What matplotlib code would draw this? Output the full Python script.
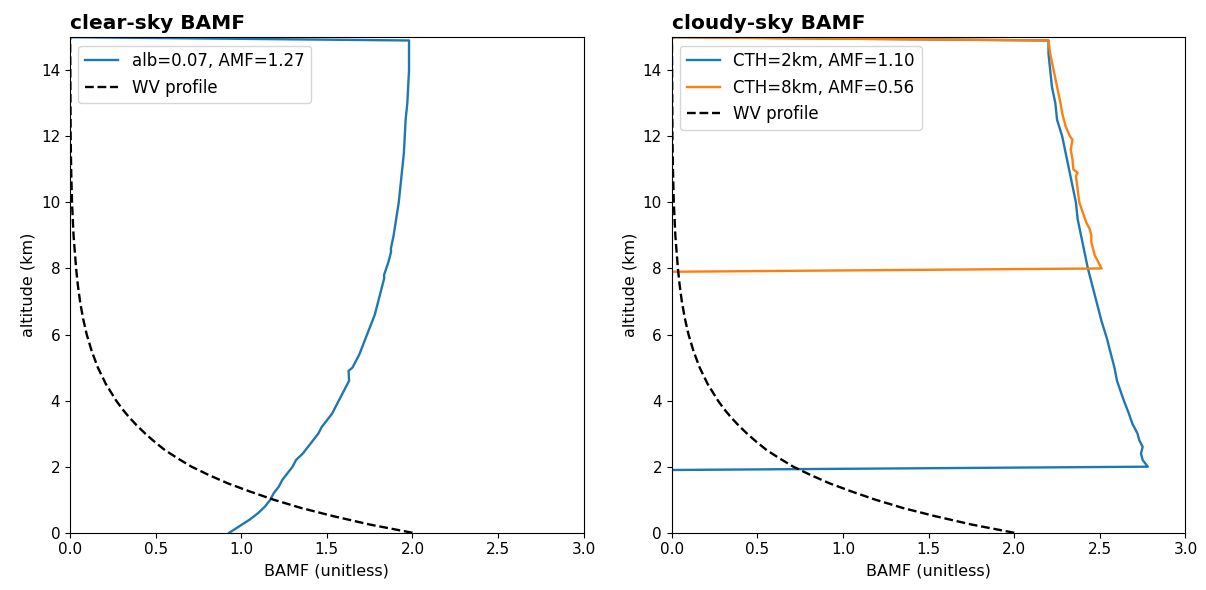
import numpy as np
import matplotlib
matplotlib.use("Agg")
import matplotlib.pyplot as plt

# water vapour profile (shape)
wv_alt = [0.0, 0.25, 0.5, 0.75, 1.0, 1.25, 1.5, 1.75, 2.0, 2.25, 2.5, 2.75, 3.0,
          3.25, 3.5, 3.75, 4.0, 4.5, 5.0, 5.5, 6.0, 6.5, 7.0, 7.5, 8.0, 9.0,
          10.0, 11.0, 12.0, 15.0]
wv_val = [2.0, 1.75, 1.54, 1.35, 1.19, 1.05, 0.92, 0.81, 0.71, 0.63, 0.555, 0.495,
          0.44, 0.39, 0.345, 0.305, 0.27, 0.21, 0.163, 0.127, 0.098, 0.076, 0.059,
          0.046, 0.036, 0.021, 0.012, 0.007, 0.004, 0.001]

# clear-sky box AMF
clear_alt = [0.0, 0.2, 0.4, 0.6, 0.8, 1.0, 1.2, 1.4, 1.6, 1.8, 2.0, 2.2, 2.4, 2.6,
             2.8, 3.0, 3.2, 3.4, 3.6, 3.8, 4.0, 4.3, 4.6, 4.9, 5.0, 5.4, 5.8, 6.2,
             6.6, 7.0, 7.4, 7.7, 7.8, 8.2, 8.5, 8.6, 9.0, 9.5, 10.0, 10.5, 11.0,
             11.5, 12.0, 12.5, 13.0, 13.5, 14.0, 14.5, 14.9, 15.0]
clear_bamf = [0.93, 0.99, 1.05, 1.10, 1.14, 1.17, 1.19, 1.22, 1.24, 1.27, 1.30,
              1.32, 1.36, 1.39, 1.42, 1.45, 1.47, 1.50, 1.53, 1.55, 1.57, 1.60,
              1.63, 1.627, 1.65, 1.69, 1.72, 1.75, 1.78, 1.80, 1.82, 1.835, 1.834,
              1.86, 1.875, 1.874, 1.89, 1.905, 1.92, 1.93, 1.94, 1.95, 1.955, 1.96,
              1.97, 1.975, 1.98, 1.98, 1.98, 0.0]

# cloudy-sky box AMF, cloud top 2 km
cth2_alt = [0.0, 1.9, 2.0, 2.2, 2.4, 2.6, 2.8, 3.0, 3.3, 3.6, 4.0, 4.3, 4.6, 5.0,
            5.5, 5.9, 6.4, 6.9, 7.4, 8.0, 8.5, 9.0, 9.5, 10.0, 10.5, 11.0, 11.5,
            12.0, 12.5, 13.0, 13.5, 14.0, 14.5, 14.9, 15.0]
cth2_bamf = [0.0, 0.0, 2.78, 2.75, 2.74, 2.75, 2.73, 2.72, 2.69, 2.67, 2.64, 2.62,
             2.60, 2.585, 2.56, 2.54, 2.51, 2.485, 2.46, 2.43, 2.41, 2.39, 2.37,
             2.36, 2.34, 2.32, 2.30, 2.28, 2.25, 2.24, 2.22, 2.21, 2.20, 2.20, 0.0]

# cloudy-sky box AMF, cloud top 8 km
cth8_alt = [0.0, 7.9, 8.0, 8.2, 8.4, 8.6, 8.8, 9.0, 9.2, 9.4, 9.7, 10.0, 10.4,
            10.8, 10.9, 11.0, 11.3, 11.6, 11.9, 12.0, 12.3, 12.7, 13.0, 13.5,
            14.0, 14.5, 14.9, 15.0]
cth8_bamf = [0.0, 0.0, 2.51, 2.49, 2.47, 2.46, 2.45, 2.45, 2.44, 2.42, 2.40, 2.38,
             2.37, 2.36, 2.37, 2.345, 2.34, 2.33, 2.34, 2.325, 2.30, 2.28, 2.27,
             2.25, 2.23, 2.21, 2.20, 0.0]

fig = plt.figure(figsize=(12.06, 5.9), dpi=100)
ax1 = fig.add_axes([0.058, 0.097, 0.426, 0.84])
ax2 = fig.add_axes([0.557, 0.097, 0.426, 0.84])

ax1.plot(clear_bamf, clear_alt, color='#1f77b4', lw=1.7, label='alb=0.07, AMF=1.27')
ax1.plot(wv_val, wv_alt, 'k--', lw=1.7, label='WV profile')
ax1.set_title('clear-sky BAMF', loc='left', fontweight='bold', fontsize=14.5)

ax2.plot(cth2_bamf, cth2_alt, color='#1f77b4', lw=1.7, label='CTH=2km, AMF=1.10')
ax2.plot(cth8_bamf, cth8_alt, color='#ff7f0e', lw=1.7, label='CTH=8km, AMF=0.56')
ax2.plot(wv_val, wv_alt, 'k--', lw=1.7, label='WV profile')
ax2.set_title('cloudy-sky BAMF', loc='left', fontweight='bold', fontsize=14.5)

for ax in (ax1, ax2):
    ax.set_xlim(0, 3)
    ax.set_ylim(0, 15)
    ax.set_xlabel('BAMF (unitless)', fontsize=11.5)
    ax.set_ylabel('altitude (km)', fontsize=11.5)
    ax.tick_params(labelsize=11)
    ax.legend(loc='upper left', fontsize=12)

fig.savefig('out.png', dpi=100)
